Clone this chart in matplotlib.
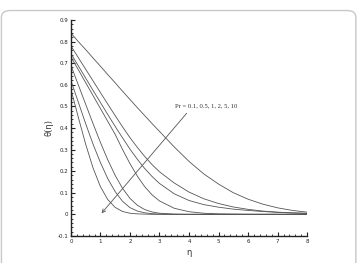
import numpy as np
import matplotlib
matplotlib.use('Agg')
import matplotlib.pyplot as plt
from matplotlib.patches import FancyBboxPatch
from matplotlib.ticker import MultipleLocator

# eta grid shared by all curves
eta = [0, 0.25, 0.5, 0.75, 1, 1.25, 1.5, 1.75, 2, 2.25, 2.5, 2.75, 3,
       3.5, 4, 4.5, 5, 5.5, 6, 6.5, 7, 7.5, 8]

# theta(eta), from the widest profile to the thinnest
theta_1 = [0.84, 0.80, 0.763, 0.724, 0.686, 0.647, 0.609, 0.57, 0.532, 0.494, 0.457, 0.42, 0.384,
           0.312, 0.245, 0.187, 0.14, 0.10, 0.07, 0.047, 0.03, 0.018, 0.01]
theta_2 = [0.78, 0.726, 0.672, 0.618, 0.564, 0.51, 0.457, 0.405, 0.355, 0.31, 0.268, 0.23, 0.197,
           0.145, 0.103, 0.072, 0.05, 0.034, 0.023, 0.015, 0.01, 0.007, 0.005]
theta_3 = [0.745, 0.688, 0.631, 0.574, 0.518, 0.462, 0.407, 0.354, 0.302, 0.255, 0.212, 0.175, 0.143,
           0.095, 0.064, 0.045, 0.033, 0.024, 0.018, 0.013, 0.009, 0.006, 0.004]
theta_4 = [0.73, 0.67, 0.61, 0.55, 0.49, 0.43, 0.37, 0.30, 0.235, 0.177, 0.128, 0.09, 0.062,
           0.028, 0.012, 0.005, 0.002, 0.001, 0, 0, 0, 0, 0]
theta_5 = [0.69, 0.60, 0.51, 0.42, 0.333, 0.252, 0.18, 0.12, 0.074, 0.042, 0.022, 0.011, 0.005,
           0.001, 0, 0, 0, 0, 0, 0, 0, 0, 0]
theta_6 = [0.62, 0.52, 0.42, 0.325, 0.24, 0.165, 0.105, 0.06, 0.031, 0.015, 0.007, 0.003, 0.001,
           0, 0, 0, 0, 0, 0, 0, 0, 0, 0]
theta_7 = [0.58, 0.45, 0.325, 0.215, 0.128, 0.068, 0.032, 0.013, 0.005, 0.002, 0.001, 0, 0,
           0, 0, 0, 0, 0, 0, 0, 0, 0, 0]
curves = [theta_1, theta_2, theta_3, theta_4, theta_5, theta_6, theta_7]

label_text = 'Pr = 0.1, 0.5, 1, 2, 5, 10'
arrow_from = (3.92, 0.468)
arrow_to = (1.04, 0.005)

fig = plt.figure(figsize=(3.58, 2.63), dpi=100)

# rounded frame around the figure
frame = FancyBboxPatch((0.004, -0.06), 0.99, 1.02, boxstyle='round,pad=0,rounding_size=0.025',
                       transform=fig.transFigure, fill=False, edgecolor='#c8c8c8', lw=1.0)
fig.patches.append(frame)

ax = fig.add_axes([0.198, 0.103, 0.66, 0.821])
for th in curves:
    ax.plot(eta, th, color='#555555', lw=0.6)

ax.annotate('', xy=arrow_to, xytext=arrow_from,
            arrowprops=dict(arrowstyle='->', color='#555555', lw=0.6,
                            mutation_scale=6, shrinkA=0, shrinkB=0))
ax.text(3.53, 0.50, label_text, fontsize=4.8, family='Liberation Serif',
        va='center', ha='left', color='#333333')

ax.set_xlim(0, 8)
ax.set_ylim(-0.1, 0.9)
ax.xaxis.set_major_locator(MultipleLocator(1))
ax.xaxis.set_minor_locator(MultipleLocator(0.2))
ax.yaxis.set_major_locator(MultipleLocator(0.1))
ax.yaxis.set_minor_locator(MultipleLocator(0.02))
ax.set_yticks(np.arange(-0.1, 0.91, 0.1))
ax.set_yticklabels(['-0.1', '0', '0.1', '0.2', '0.3', '0.4', '0.5', '0.6', '0.7', '0.8', '0.9'])

for s in ['top', 'right']:
    ax.spines[s].set_visible(False)
for s in ['left', 'bottom']:
    ax.spines[s].set_linewidth(1.0)
    ax.spines[s].set_color('#222222')

ax.tick_params(which='major', direction='in', length=3, width=0.8, labelsize=4,
               colors='#222222', pad=2)
ax.tick_params(which='minor', direction='in', length=1.6, width=0.6, colors='#222222')

ax.set_xlabel('η', fontsize=6, labelpad=3, color='#333333')
ax.set_ylabel('θ(η)', fontsize=6, labelpad=3, color='#333333')

fig.savefig('out.png', dpi=100)
